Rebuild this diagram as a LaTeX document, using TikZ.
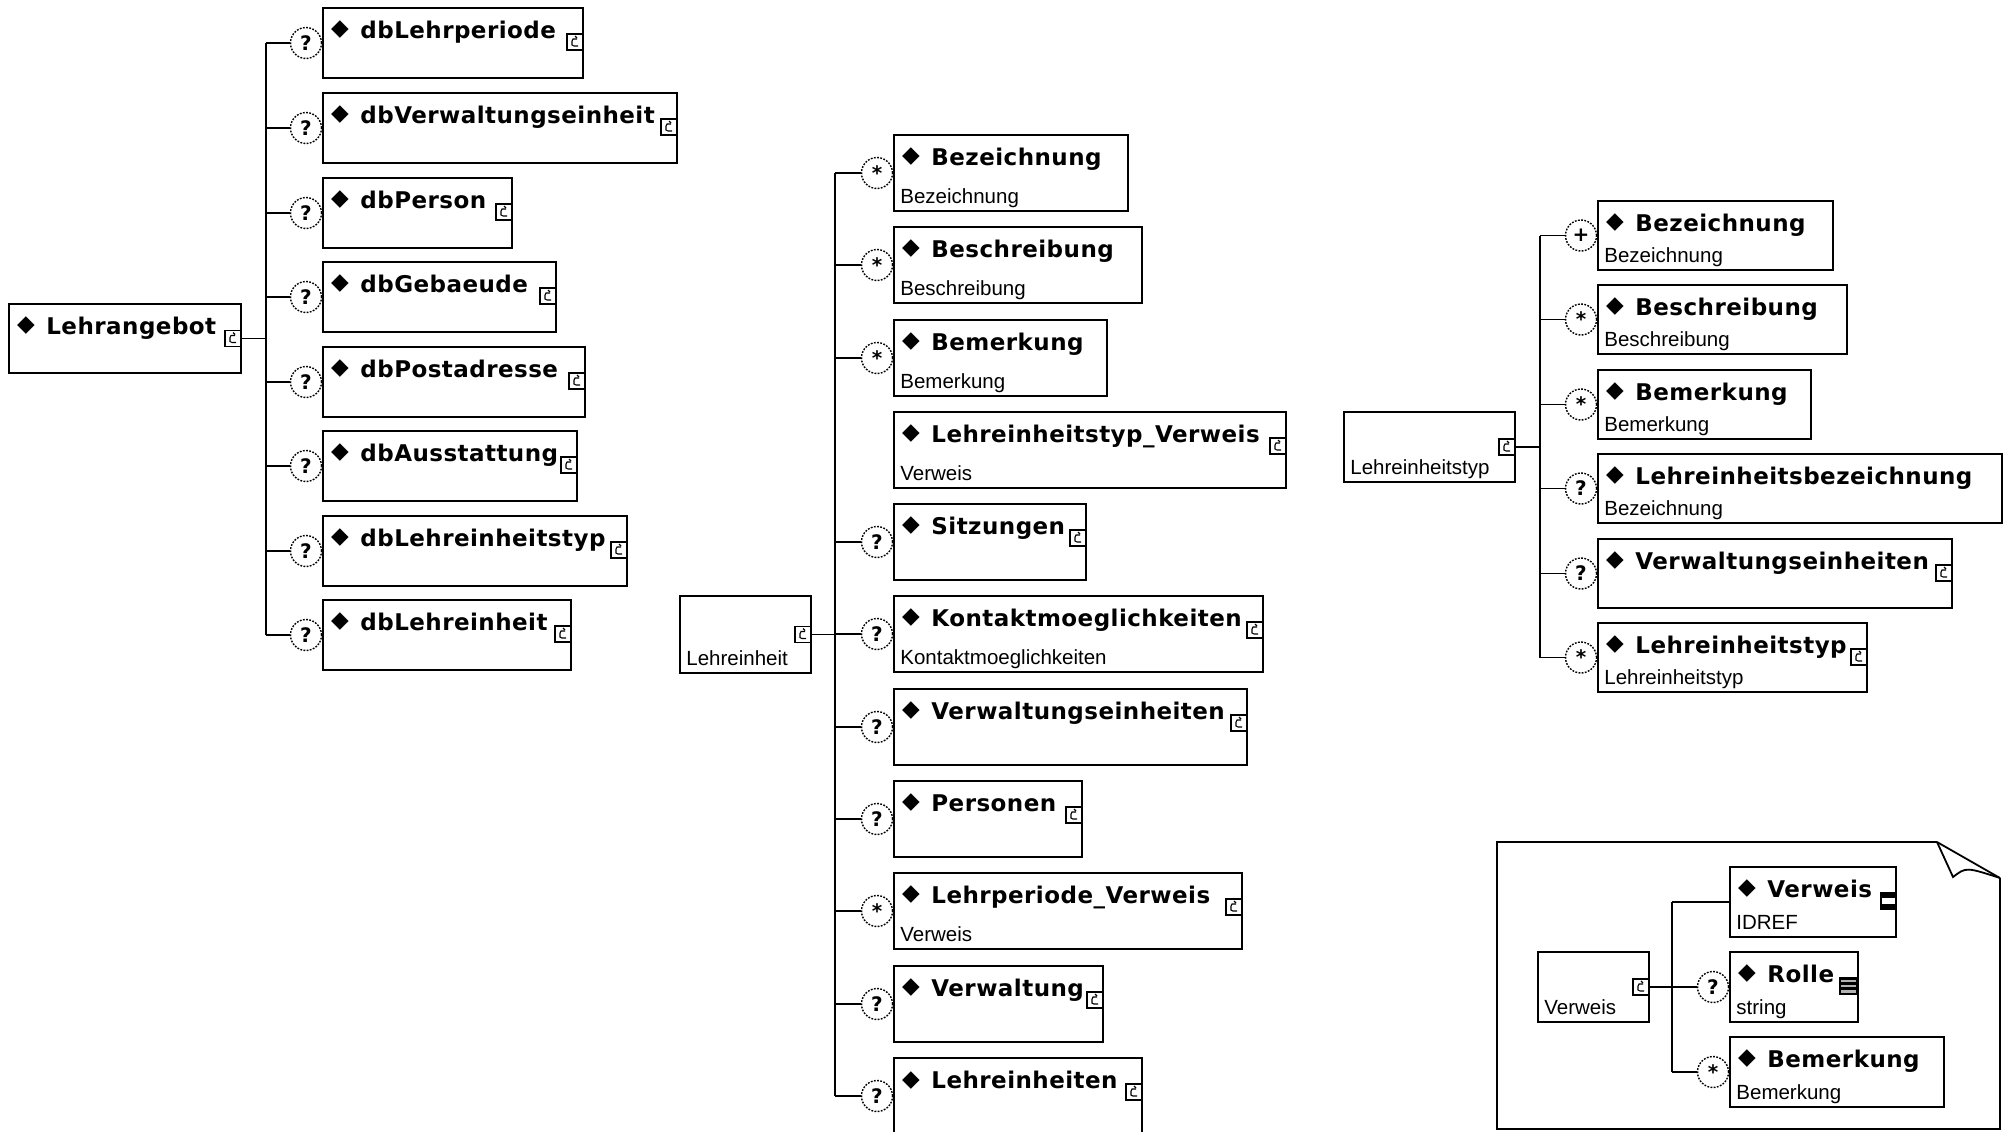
\documentclass[tikz,border=0pt]{standalone}
\usepackage{fontspec}
\setmainfont{Liberation Sans}
\newfontfamily\ttlfont[LetterSpace=2]{DejaVu Sans}
\newfontfamily\symfont{DejaVu Sans}
\usetikzlibrary{calc,fit}
\tikzset{
  ebox/.style={draw, line width=0.9pt, inner sep=0pt, outer sep=0pt},
  ln/.style={line width=0.9pt},
  ttl/.style={anchor=base west, inner sep=0pt, font={\fontsize{11.5pt}{13pt}\ttlfont\bfseries}},
  dia/.style={inner sep=0pt, font={\fontsize{11.5pt}{13pt}\symfont}},
  sbt/.style={anchor=base west, inner sep=0pt, font={\fontsize{10.25pt}{12pt}\selectfont}},
  occ/.style={circle, draw, dash pattern=on 0.9pt off 0.7pt, line width=0.7pt, minimum size=15.5pt, inner sep=0pt, fill=white,
    font={\fontsize{10pt}{11pt}\symfont\bfseries}},
  cicon/.pic={
    \draw[line width=0.55pt, fill=white] (-8,-8) rectangle (8,8);
    \draw[line width=0.55pt] (2,-3) -- (-2,-3) -- (-3,-1) -- (-3,3) -- (-1,4) -- (3,4);
    \draw[line width=0.55pt] (0,-6) -- (2,-4);
  },
  eqicon/.pic={
    \fill (-8.5,-9) rectangle (8.5,9);
    \fill[white] (-6.5,-3) rectangle (6.5,3);
  },
  lsticon/.pic={
    \fill (-9.5,-9) rectangle (9.5,9);
    \fill[gray!60] (-7.5,-6.5) rectangle (7.5,-4);
    \fill[gray!60] (-7.5,-1.2) rectangle (7.5,1.2);
    \fill[gray!60] (-7.5,4) rectangle (7.5,6.5);
  }
}
\newcommand\elem[6]{%
  \node[ebox, fit={(#2,#3)(#4,#5)}] (#1) {};
  \node[dia] (#1d) at ($(#1.north west)+(17,22)$) {◆};
  \node[ttl] (#1t) at ($(#1.north west)+(37,30)$) {#6};
}
\newcommand\subt[2]{\node[sbt] (#1s) at ($(#1.south west)+(6,-8)$) {#2};}
\newcommand\icn[1]{\pic at ($(#1.north east)+(-8,34)$) {cicon};}
\newcommand\picn[1]{\pic at ($(#1.east)+(-8,0)$) {cicon};}
\newcommand\occ[2]{\node[occ] (#1c) at ($(#1.west)+(-17,0)$) {#2};}
\begin{document}
\begin{tikzpicture}[x=0.5pt,y=-0.5pt]
\fill[white] (0,0) rectangle (2005,1131);
\useasboundingbox (0,0) rectangle (2005,1131);

% ---------------- Panel 1: Lehrangebot ----------------
\elem{LA}{9}{304}{241}{373}{Lehrangebot}
\picn{LA}
\elem{a1}{323}{8}{583}{78}{dbLehrperiode}
\elem{a2}{323}{93}{677}{163}{dbVerwaltungseinheit}
\elem{a3}{323}{178}{512}{248}{dbPerson}
\elem{a4}{323}{262}{556}{332}{dbGebaeude}
\elem{a5}{323}{347}{585}{417}{dbPostadresse}
\elem{a6}{323}{431}{577}{501}{dbAusstattung}
\elem{a7}{323}{516}{627}{586}{dbLehreinheitstyp}
\elem{a8}{323}{600}{571}{670}{dbLehreinheit}
\foreach \i in {1,...,8} {\icn{a\i} \occ{a\i}{?}}
\coordinate (T1) at ($(LA.east)+(25,0)$);
\draw[ln] (LA.east) -- (T1);
\draw[ln] (a1c.west -| T1) -- (a8c.west -| T1);
\foreach \i in {1,...,8} {\draw[ln] (a\i c.west -| T1) -- (a\i c.west);}

% ---------------- Panel 2: Lehreinheit ----------------
\node[ebox, fit={(680,596)(811,673)}] (LE) {};
\subt{LE}{Lehreinheit}
\picn{LE}
\elem{b1}{894}{135}{1128}{211}{Bezeichnung}
\subt{b1}{Bezeichnung}
\elem{b2}{894}{227}{1142}{303}{Beschreibung}
\subt{b2}{Beschreibung}
\elem{b3}{894}{320}{1107}{396}{Bemerkung}
\subt{b3}{Bemerkung}
\elem{b4}{894}{412}{1286}{488}{Lehreinheitstyp\_Verweis}
\subt{b4}{Verweis}
\elem{b5}{894}{504}{1086}{580}{Sitzungen}
\elem{b6}{894}{596}{1263}{672}{Kontaktmoeglichkeiten}
\subt{b6}{Kontaktmoeglichkeiten}
\elem{b7}{894}{689}{1247}{765}{Verwaltungseinheiten}
\elem{b8}{894}{781}{1082}{857}{Personen}
\elem{b9}{894}{873}{1242}{949}{Lehrperiode\_Verweis}
\subt{b9}{Verweis}
\elem{b10}{894}{966}{1103}{1042}{Verwaltung}
\elem{b11}{894}{1058}{1142}{1134}{Lehreinheiten}
\foreach \i in {4,...,11} {\icn{b\i}}
\occ{b1}{*}\occ{b2}{*}\occ{b3}{*}
\occ{b5}{?}\occ{b6}{?}\occ{b7}{?}\occ{b8}{?}
\occ{b9}{*}\occ{b10}{?}\occ{b11}{?}
\coordinate (T2) at ($(LE.east)+(24,0)$);
\draw[ln] (LE.east) -- (T2);
\draw[ln] (b1c.west -| T2) -- (b11c.west -| T2);
\foreach \i in {1,2,3,5,6,7,8,9,10,11} {\draw[ln] (b\i c.west -| T2) -- (b\i c.west);}

% ---------------- Panel 3: Lehreinheitstyp ----------------
\node[ebox, fit={(1344,412)(1515,482)}] (LT) {};
\subt{LT}{Lehreinheitstyp}
\picn{LT}
\elem{c1}{1598}{201}{1833}{270}{Bezeichnung}
\subt{c1}{Bezeichnung}
\elem{c2}{1598}{285}{1847}{354}{Beschreibung}
\subt{c2}{Beschreibung}
\elem{c3}{1598}{370}{1811}{439}{Bemerkung}
\subt{c3}{Bemerkung}
\elem{c4}{1598}{454}{2002}{523}{Lehreinheitsbezeichnung}
\subt{c4}{Bezeichnung}
\elem{c5}{1598}{539}{1952}{608}{Verwaltungseinheiten}
\elem{c6}{1598}{623}{1867}{692}{Lehreinheitstyp}
\subt{c6}{Lehreinheitstyp}
\icn{c5}\icn{c6}
\occ{c1}{+}\occ{c2}{*}\occ{c3}{*}\occ{c4}{?}\occ{c5}{?}\occ{c6}{*}
\coordinate (T3) at ($(LT.east)+(25,0)$);
\draw[ln] (LT.east) -- (T3);
\draw[ln] (c1c.west -| T3) -- (c6c.west -| T3);
\foreach \i in {1,...,6} {\draw[ln] (c\i c.west -| T3) -- (c\i c.west);}

% ---------------- Panel 4: Verweis (note) ----------------
\draw[ln] (1937,842) -- (1497,842) -- (1497,1129) -- (2000,1129) -- (2000,878);
\draw[ln] (1937,842) -- (2000,878);
\draw[ln] (1937,842) -- (1953,877) .. controls (1966,867) .. (2000,878);
\node[ebox, fit={(1538,952)(1649,1022)}] (VW) {};
\subt{VW}{Verweis}
\picn{VW}
\elem{d1}{1730}{867}{1896}{937}{Verweis}
\subt{d1}{IDREF}
\pic at ($(d1.north east)+(-8,34)$) {eqicon};
\elem{d2}{1730}{952}{1858}{1022}{Rolle}
\subt{d2}{string}
\pic at ($(d2.north east)+(-9.5,34)$) {lsticon};
\elem{d3}{1730}{1037}{1944}{1107}{Bemerkung}
\subt{d3}{Bemerkung}
\occ{d2}{?}\occ{d3}{*}
\coordinate (T4) at ($(VW.east)+(23,0)$);
\draw[ln] (VW.east) -- (T4);
\draw[ln] (d1.west -| T4) -- (d3c.west -| T4);
\draw[ln] (d1.west -| T4) -- (d1.west);
\draw[ln] (d2c.west -| T4) -- (d2c.west);
\draw[ln] (d3c.west -| T4) -- (d3c.west);
\end{tikzpicture}
\end{document}
